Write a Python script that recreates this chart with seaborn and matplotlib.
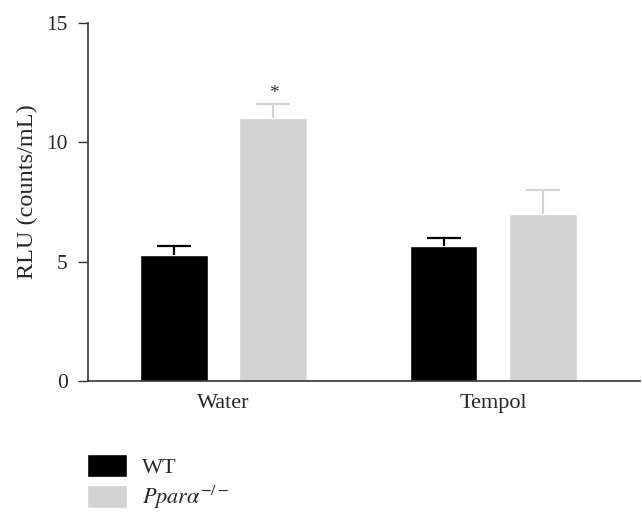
import pandas as pd
import matplotlib.pyplot as plt
import seaborn as sns
from matplotlib.patches import Patch

# values
treatments = ['Water', 'Tempol']
genotypes = ['WT', 'Ppara']
wt_mean = [5.3, 5.65]
wt_sem = [0.35, 0.33]
ko_mean = [11.0, 7.0]
ko_sem = [0.6, 1.0]

colors = ['#000000', '#d3d3d3']

df = pd.DataFrame({
    'treatment': treatments * 2,
    'genotype': [genotypes[0]] * 2 + [genotypes[1]] * 2,
    'value': wt_mean + ko_mean,
    'sem': wt_sem + ko_sem,
})

sns.set_style('white')
plt.rcParams['font.family'] = ['Liberation Serif', 'DejaVu Serif']
plt.rcParams['mathtext.fontset'] = 'stix'

fig = plt.figure(figsize=(6.42, 5.26), dpi=100)
ax = fig.add_axes([0.137, 0.2757, 0.860, 0.6805])

sns.barplot(data=df, x='treatment', y='value', hue='genotype',
            palette=colors, width=0.74, gap=0.32, errorbar=None,
            saturation=1, legend=False, ax=ax)

# upper-only error bars (stem + cap), coloured like the bars
for cont, g, c in zip(ax.containers, genotypes, colors):
    sub = df[df['genotype'] == g]
    for bar, v, e in zip(cont, sub['value'], sub['sem']):
        xc = bar.get_x() + bar.get_width() / 2
        half = bar.get_width() / 4
        ax.vlines(xc, v, v + e, color=c, lw=1.6, zorder=3)
        ax.hlines(v + e, xc - half, xc + half, color=c, lw=1.6, zorder=3)

# significance marker above Water / Ppara
b = ax.containers[1][0]
ax.text(b.get_x() + b.get_width() / 2, ko_mean[0] + ko_sem[0] + 0.1, '*',
        ha='center', va='bottom', fontsize=14, color='#333333')

ax.set_ylim(0, 15)
ax.set_xlim(-0.502, 1.543)
ax.set_yticks([0, 5, 10, 15])
ax.set_xlabel('')
ax.set_ylabel('RLU (counts/mL)', fontsize=17.5)
ax.yaxis.set_label_coords(-0.09, 0.53)
ax.tick_params(axis='y', which='both', left=True, direction='out', length=7.5,
               width=1, labelsize=15.5, pad=7, color='#333333')
ax.tick_params(axis='x', bottom=False, labelsize=16, pad=6)
sns.despine(ax=ax)
for s in ['left', 'bottom']:
    ax.spines[s].set_color('#333333')
    ax.spines[s].set_linewidth(1.2)

handles = [Patch(facecolor=colors[0]), Patch(facecolor=colors[1])]
labels = ['WT', r'$\mathit{Ppar\alpha}^{-/-}$']
fig.legend(handles, labels, loc='upper left', bbox_to_anchor=(0.122, 0.153),
           frameon=False, fontsize=16, handlelength=1.8, handleheight=1.2,
           handletextpad=0.65, labelspacing=0.25, borderaxespad=0)

fig.savefig('out.png', dpi=100)
